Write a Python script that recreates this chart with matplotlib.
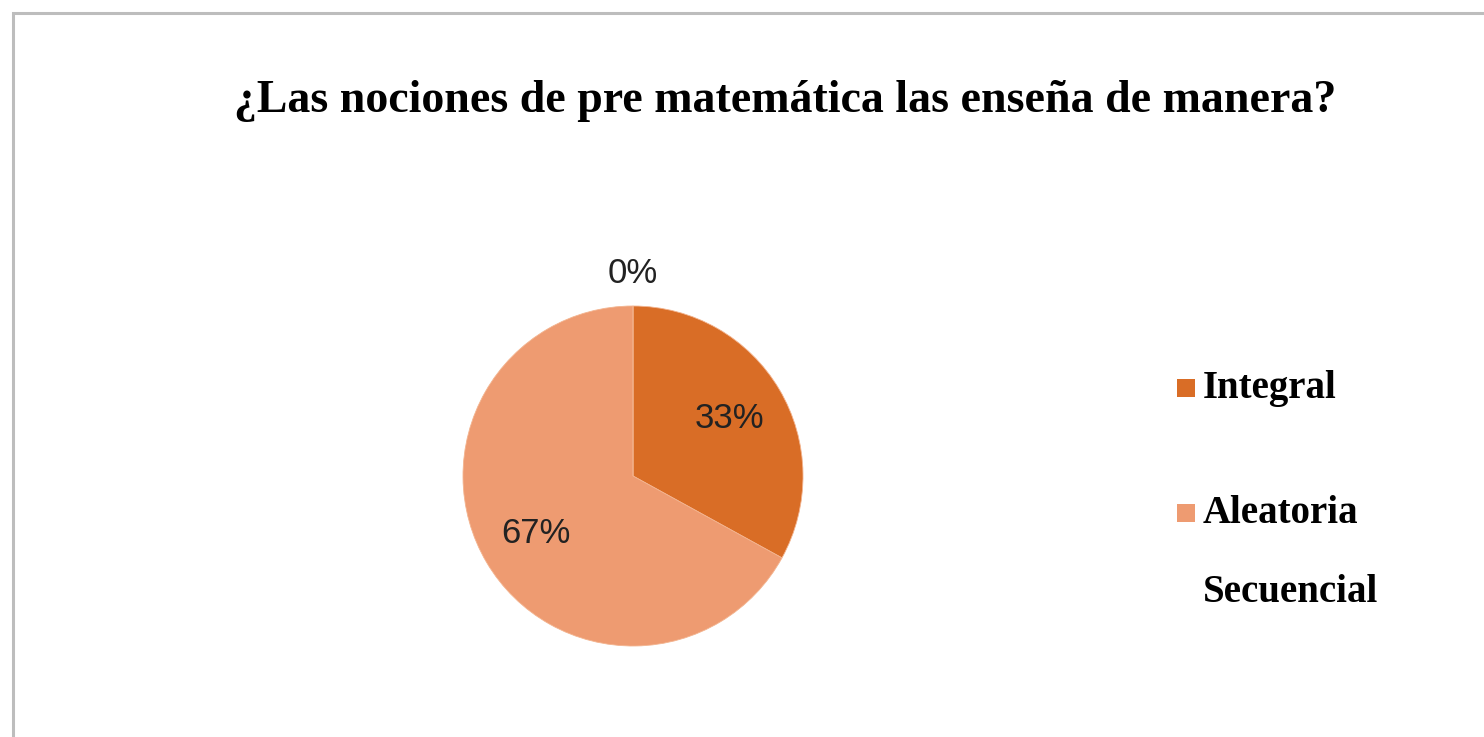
import matplotlib
matplotlib.use("Agg")
import matplotlib.pyplot as plt
from matplotlib.patches import Rectangle

# Data
categories = ["Integral", "Aleatoria", "Secuencial"]
values = [33, 67, 0]
colors = ["#D96D26", "#EE9B71", "#FFFFFF"]
title = "¿Las nociones de pre matemática las enseña de manera?"

W, H = 1484, 737
fig = plt.figure(figsize=(W / 100, H / 100), dpi=100)
fig.patch.set_facecolor("white")

# Chart border (gray frame, open to right/bottom)
fig.patches.append(Rectangle((13 / W, -0.1), 1.2, 1 - 13 / H + 0.1, transform=fig.transFigure,
                             fill=False, edgecolor="#BDBDBD", linewidth=2.2))

serif = ["Liberation Serif", "DejaVu Serif"]
narrow = ["Liberation Sans Narrow", "Liberation Sans", "DejaVu Sans"]

fig.text(785 / W, 1 - 112 / H, title, ha="center", va="baseline",
         fontsize=33, fontweight="bold", family=serif)

# Pie
cx, cy, r = 633, 476, 170
ax = fig.add_axes([(cx - r) / W, (H - cy - r) / H, 2 * r / W, 2 * r / H])
wedges, texts, autotexts = ax.pie(values, colors=colors, startangle=90, counterclock=False,
                                  autopct=lambda p: f"{p:.0f}%", pctdistance=0.66,
                                  wedgeprops=dict(edgecolor="#F3B48F", linewidth=0.6),
                                  textprops=dict(fontsize=25, family=narrow, color="#222222"))
for v, t in zip(values, autotexts):
    if v == 0:
        t.set_position((0, 1.19))
ax.set_xlim(-1, 1)
ax.set_ylim(-1, 1)
ax.set_aspect("auto")
ax.axis("off")

# Legend (manual placement to match uneven spacing)
leg_base = [398, 523, 602]
for name, col, y in zip(categories, colors, leg_base):
    fig.patches.append(Rectangle((1177 / W, 1 - (y - 1) / H), 18 / W, 18 / H,
                                 transform=fig.transFigure, facecolor=col, edgecolor="none"))
    fig.text(1203 / W, 1 - y / H, name, ha="left", va="baseline",
             fontsize=28, fontweight="bold", family=serif)

fig.savefig("out.png", dpi=100)
